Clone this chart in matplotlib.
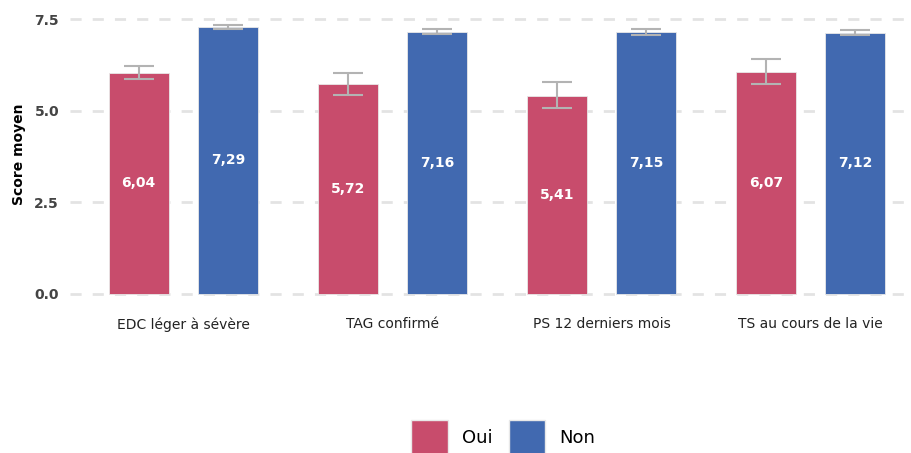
import numpy as np
import matplotlib
matplotlib.use("Agg")
import matplotlib.pyplot as plt
from matplotlib.patches import Patch

categories = ["EDC léger à sévère", "TAG confirmé", "PS 12 derniers mois", "TS au cours de la vie"]
oui_values = [6.04, 5.72, 5.41, 6.07]
non_values = [7.29, 7.16, 7.15, 7.12]
oui_low = [5.86, 5.42, 5.07, 5.72]
oui_high = [6.21, 6.02, 5.78, 6.40]
non_low = [7.22, 7.10, 7.08, 7.06]
non_high = [7.34, 7.24, 7.22, 7.20]
yticks = [0.0, 2.5, 5.0, 7.5]

red = "#c84c6c"
blue = "#4169b0"
err_color = "#b3b3b3"

fig = plt.figure(figsize=(9.12, 4.53), dpi=100)
ax = fig.add_axes([0.077, 0.339, 0.921, 0.639])

x = np.arange(len(categories))
off = 0.213
w = 0.287


def draw(xpos, vals, low, high, color):
    vals = np.array(vals)
    yerr = [vals - np.array(low), np.array(high) - vals]
    ax.bar(xpos, vals, width=w, color=color, edgecolor="#e8e8e8", linewidth=0.6, zorder=2)
    ax.errorbar(xpos, vals, yerr=yerr, fmt="none", ecolor=err_color, elinewidth=1.5,
                capsize=10.5, capthick=1.5, zorder=3)
    for xi, v in zip(xpos, vals):
        ax.text(xi, v / 2, f"{v:.2f}".replace(".", ","), ha="center", va="center",
                color="white", fontsize=10, fontweight="bold", zorder=4)


draw(x - off, oui_values, oui_low, oui_high, red)
draw(x + off, non_values, non_low, non_high, blue)

ax.set_xlim(-0.54, 3.475)
ax.set_ylim(-0.15, 7.75)
ax.set_yticks(yticks)
ax.set_yticklabels([f"{t:.1f}" for t in yticks], fontweight="bold", color="#444444", fontsize=10)
ax.set_xticks(x)
ax.set_xticklabels(categories, fontsize=10, color="#222222")
ax.tick_params(axis="both", length=0, pad=8)
ax.tick_params(axis="x", pad=13)
ax.set_ylabel("Score moyen", fontweight="bold", fontsize=10, labelpad=6)

for s in ax.spines.values():
    s.set_visible(False)
ax.yaxis.grid(True, color="#e3e3e3", linewidth=2, linestyle=(0, (4, 4)), zorder=0)
ax.set_axisbelow(True)

handles = [Patch(facecolor=red, edgecolor="#e8e8e8"), Patch(facecolor=blue, edgecolor="#e8e8e8")]
fig.legend(handles, ["Oui", "Non"], loc="center", bbox_to_anchor=(0.552, 0.035), ncol=2,
           frameon=False, fontsize=13, handlelength=2.0, handleheight=2.6,
           handletextpad=0.8, columnspacing=0.9)

fig.savefig("out.png", dpi=100)
